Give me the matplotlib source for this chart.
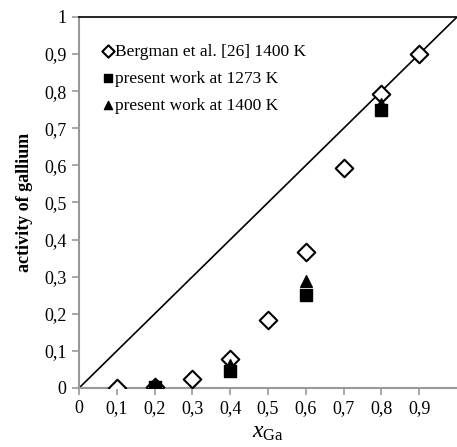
import numpy as np
import matplotlib.pyplot as plt

# Bergman et al. [26] 1400 K
x_berg = [0.1, 0.2, 0.3, 0.4, 0.5, 0.6, 0.7, 0.8, 0.9]
a_berg = [0.0, 0.004, 0.023, 0.077, 0.183, 0.366, 0.594, 0.792, 0.900]
# present work 1273 K
x_1273 = [0.2, 0.4, 0.6, 0.8]
a_1273 = [0.002, 0.045, 0.252, 0.748]
# present work 1400 K
x_1400 = [0.2, 0.4, 0.6, 0.8]
a_1400 = [0.005, 0.062, 0.288, 0.765]

xticks = [0, 0.1, 0.2, 0.3, 0.4, 0.5, 0.6, 0.7, 0.8, 0.9]
yticks = [0, 0.1, 0.2, 0.3, 0.4, 0.5, 0.6, 0.7, 0.8, 0.9, 1]

plt.rcParams['font.family'] = ['Liberation Serif', 'DejaVu Serif']
plt.rcParams['mathtext.fontset'] = 'custom'
plt.rcParams['mathtext.rm'] = 'Liberation Serif'
plt.rcParams['mathtext.it'] = 'Liberation Serif:italic'

fig = plt.figure(figsize=(4.57, 4.47), dpi=100)
ax = fig.add_axes([0.173, 0.132, 0.827, 0.830])

# ligne idéale a = x
ax.plot([0, 1], [0, 1], color='black', lw=1.2, zorder=2)

ax.scatter(x_berg, a_berg, marker='D', s=80, facecolor='white',
           edgecolor='black', linewidth=1.5, zorder=3,
           label='Bergman et al. [26] 1400 K')
ax.scatter(x_1273, a_1273, marker='s', s=70, color='black', zorder=4,
           label='present work at 1273 K')
ax.scatter(x_1400, a_1400, marker='^', s=70, color='black', zorder=5,
           label='present work at 1400 K')

ax.set_xlim(0, 1)
ax.set_ylim(0, 1)
ax.set_xticks(xticks)
ax.set_yticks(yticks)
fmt = lambda v: ('%g' % v).replace('.', ',')
ax.set_xticklabels([fmt(v) for v in xticks])
ax.set_yticklabels([fmt(v) for v in yticks])
ax.tick_params(labelsize=13, color='#999999', length=5, width=1.2, pad=4)

for s in ['left', 'bottom']:
    ax.spines[s].set_color('#999999')
    ax.spines[s].set_linewidth(1.5)
ax.spines['right'].set_visible(False)
ax.spines['top'].set_color('black')
ax.spines['top'].set_linewidth(1.2)

ax.set_ylabel('activity of gallium', fontsize=13, fontweight='bold', labelpad=8)
ax.set_xlabel(r'$\mathit{x}_{\mathrm{Ga}}$', fontsize=17, labelpad=3)

ax.legend(loc='upper left', bbox_to_anchor=(0.025, 0.97), frameon=False,
          fontsize=12.5, handlelength=0.5, handletextpad=0.15,
          labelspacing=0.62, markerscale=0.7)

fig.savefig('out.png', dpi=100)
